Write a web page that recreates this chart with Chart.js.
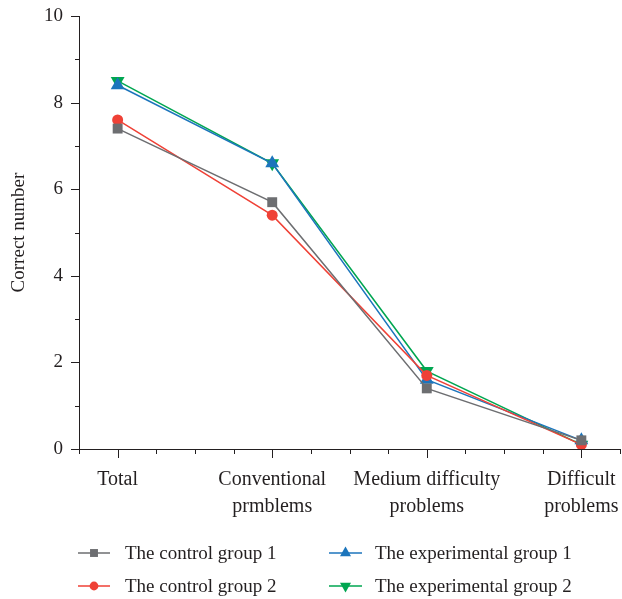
<!DOCTYPE html>
<html>
<head>
<meta charset="utf-8">
<script src="https://cdn.jsdelivr.net/npm/chart.js@4/dist/chart.umd.min.js"></script>
<style>
  html, body { margin: 0; padding: 0; background: #fff; }
  #wrap { width: 622px; height: 599px; position: relative; }
</style>
</head>
<body>
<div id="wrap"><canvas id="chart"></canvas></div>
<script>
// Problem categories (x axis) and their two-line tick labels
const categories = ['Total', 'Conventional prmblems', 'Medium difficulty problems', 'Difficult problems'];
const categoryLabels = [['Total'], ['Conventional', 'prmblems'], ['Medium difficulty', 'problems'], ['Difficult', 'problems']];

// Mean correct answers per group
const control1 = [7.4, 5.7, 1.4, 0.2];
const control2 = [7.6, 5.4, 1.7, 0.1];
const experimental1 = [8.4, 6.6, 1.6, 0.2];
const experimental2 = [8.5, 6.6, 1.8, 0.1];

// Y axis ticks
const yTicks = [0, 2, 4, 6, 8, 10];

const FONT = '"Liberation Serif", "DejaVu Serif", serif';

function points(values) {
  return values.map((v, i) => ({ x: i, y: v }));
}

const datasets = [
  { label: 'The control group 1', data: points(control1), borderColor: '#6d6e71', backgroundColor: '#6d6e71',
    pointStyle: 'rect', pointRadius: 7, pointRotation: 0 },
  { label: 'The control group 2', data: points(control2), borderColor: '#ef4136', backgroundColor: '#ef4136',
    pointStyle: 'circle', pointRadius: 5.5, pointRotation: 0 },
  { label: 'The experimental group 1', data: points(experimental1), borderColor: '#1c75bc', backgroundColor: '#1c75bc',
    pointStyle: 'triangle', pointRadius: 8, pointRotation: 0 },
  { label: 'The experimental group 2', data: points(experimental2), borderColor: '#00a651', backgroundColor: '#00a651',
    pointStyle: 'triangle', pointRadius: 8, pointRotation: 180 }
].map(d => Object.assign(d, { borderWidth: 1.5, pointBorderWidth: 0, pointHoverRadius: d.pointRadius, tension: 0 }));

// Tick marks drawn outside the axes: long at labelled values, short in between
const tickMarks = {
  id: 'tickMarks',
  afterDraw(chart) {
    const ctx = chart.ctx;
    const xs = chart.scales.x, ys = chart.scales.y;
    ctx.save();
    ctx.strokeStyle = '#231f20';
    ctx.lineWidth = 1;
    for (let v = 0; v <= 10; v += 1) {
      const y = Math.round(ys.getPixelForValue(v)) + 0.5;
      const len = v % 2 === 0 ? 8 : 4;
      ctx.beginPath();
      ctx.moveTo(xs.left, y);
      ctx.lineTo(xs.left - len, y);
      ctx.stroke();
    }
    for (let v = -0.25; v <= 3.25 + 1e-9; v += 0.25) {
      const x = Math.round(xs.getPixelForValue(v)) + 0.5;
      const major = Math.abs(v - Math.round(v)) < 1e-6;
      const len = major ? 9 : 5;
      ctx.beginPath();
      ctx.moveTo(x, ys.bottom);
      ctx.lineTo(x, ys.bottom + len);
      ctx.stroke();
    }
    ctx.restore();
  }
};

// Two-column legend below the plot
const gridLegend = {
  id: 'gridLegend',
  afterDraw(chart) {
    const ctx = chart.ctx;
    const cols = [{ line: [78, 110], text: 125 }, { line: [329, 362], text: 375 }];
    const rows = [553, 586];
    const order = [[0, 0, 0], [1, 0, 1], [2, 1, 0], [3, 1, 1]]; // dataset, column, row
    ctx.save();
    ctx.font = '19px ' + FONT;
    ctx.textBaseline = 'middle';
    ctx.fillStyle = '#231f20';
    order.forEach(([di, c, r]) => {
      const ds = chart.data.datasets[di];
      const col = cols[c], y = rows[r];
      ctx.strokeStyle = ds.borderColor;
      ctx.lineWidth = 1.5;
      ctx.beginPath();
      ctx.moveTo(col.line[0], y);
      ctx.lineTo(col.line[1], y);
      ctx.stroke();
      ctx.fillStyle = ds.backgroundColor;
      Chart.helpers.drawPoint(ctx, {
        pointStyle: ds.pointStyle, radius: ds.pointRadius * 0.8, rotation: ds.pointRotation, borderWidth: 0
      }, (col.line[0] + col.line[1]) / 2, y);
      ctx.fillStyle = '#231f20';
      ctx.fillText(ds.label, col.text, y + 1);
    });
    ctx.restore();
  }
};

new Chart(document.getElementById('chart'), {
  type: 'line',
  data: { datasets },
  options: {
    responsive: true,
    maintainAspectRatio: false,
    animation: false,
    layout: { autoPadding: false, padding: { top: 16, right: 2, bottom: 80, left: 0 } },
    plugins: { legend: { display: false }, tooltip: { enabled: false } },
    scales: {
      x: {
        type: 'linear',
        min: -0.25,
        max: 3.25,
        afterBuildTicks(scale) {
          scale.ticks = categories.map((c, i) => ({ value: i }));
        },
        afterFit(scale) {
          scale.height = 70;
          scale.paddingLeft = 0;
          scale.paddingRight = 0;
        },
        grid: { display: false, drawTicks: false },
        border: { display: true, color: '#231f20', width: 1 },
        ticks: {
          autoSkip: false,
          maxRotation: 0,
          padding: 17,
          color: '#231f20',
          font: { family: FONT, size: 20, lineHeight: 1.35 },
          callback: (v) => categoryLabels[v]
        }
      },
      y: {
        min: 0,
        max: 10,
        afterBuildTicks(scale) {
          scale.ticks = yTicks.map(v => ({ value: v }));
        },
        afterFit(scale) {
          scale.width = 79;
          scale.paddingTop = 0;
          scale.paddingBottom = 0;
        },
        grid: { display: false, drawTicks: false },
        border: { display: true, color: '#231f20', width: 1 },
        ticks: {
          padding: 16,
          color: '#231f20',
          font: { family: FONT, size: 19 }
        },
        title: {
          display: true,
          text: 'Correct number',
          color: '#231f20',
          font: { family: FONT, size: 19 },
          padding: { top: 8, bottom: 0 }
        }
      }
    }
  },
  plugins: [tickMarks, gridLegend]
});
</script>
</body>
</html>
